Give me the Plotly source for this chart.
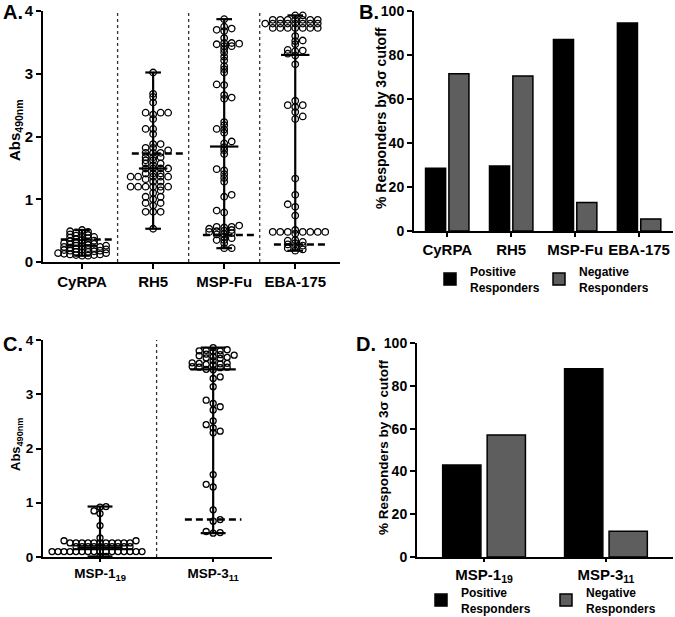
import plotly.graph_objects as go

# ---------------- Panel A data ----------------
a_labels = ["CyRPA", "RH5", "MSP-Fu", "EBA-175"]
cyrpa = [0.51, 0.49, 0.48, 0.47, 0.46, 0.44, 0.43, 0.42, 0.40, 0.40, 0.39, 0.38, 0.36,
         0.35, 0.34, 0.33, 0.32, 0.31, 0.30, 0.30, 0.29, 0.28, 0.27, 0.26, 0.26, 0.25,
         0.24, 0.24, 0.23, 0.22, 0.22, 0.21, 0.20, 0.20, 0.19, 0.18, 0.18, 0.17, 0.16,
         0.16, 0.15, 0.14, 0.14, 0.13, 0.12, 0.12, 0.11, 0.11, 0.10, 0.10]
rh5 = [3.02, 2.68, 2.63, 2.54, 2.38, 2.38, 2.38, 2.35, 2.28, 2.12, 2.12, 2.04, 1.88, 1.88, 1.82,
       1.82, 1.78, 1.74, 1.74, 1.74, 1.67, 1.67, 1.67, 1.62, 1.62, 1.57, 1.57, 1.54, 1.49, 1.49,
       1.49, 1.49, 1.41, 1.41, 1.41, 1.36, 1.36, 1.36, 1.36, 1.36, 1.32, 1.28, 1.28, 1.20, 1.20,
       1.20, 1.20, 1.20, 1.20, 1.14, 1.10, 1.04, 1.04, 1.00, 0.94, 0.94, 0.90, 0.80, 0.80, 0.80, 0.53]
msp_fu = [3.87, 3.75, 3.72, 3.70, 3.68, 3.57, 3.49, 3.49, 3.48, 3.47, 3.44, 3.44, 3.39, 3.34, 3.27,
          3.21, 3.12, 3.07, 3.02, 2.83, 2.82, 2.66, 2.62, 2.60, 2.23, 2.18, 2.12, 2.11, 2.06, 1.92,
          1.89, 1.83, 1.78, 1.72, 1.48, 1.46, 1.40, 1.34, 1.28, 1.07, 1.04, 0.82, 0.79, 0.58, 0.56,
          0.56, 0.55, 0.53, 0.51, 0.50, 0.49, 0.48, 0.46, 0.45, 0.44, 0.40, 0.38, 0.35, 0.35, 0.30,
          0.22, 0.22]
eba175 = [3.93, 3.93, 3.86, 3.86, 3.86, 3.86, 3.86, 3.86, 3.86, 3.80, 3.80, 3.80, 3.80, 3.80,
          3.80, 3.80, 3.80, 3.73, 3.73, 3.73, 3.73, 3.73, 3.73, 3.73, 3.60, 3.53, 3.52, 3.47,
          3.38, 3.37, 3.36, 3.32, 3.29, 3.15, 2.57, 2.50, 2.50, 2.47, 2.39, 2.32, 2.28, 1.33,
          1.07, 0.92, 0.88, 0.74, 0.51, 0.48, 0.48, 0.48, 0.48, 0.48, 0.48, 0.48, 0.45, 0.35,
          0.34, 0.32, 0.30, 0.28, 0.26, 0.24, 0.22, 0.20, 0.18]
a_median = [0.26, 1.49, 1.84, 3.30]
a_cutoff = [0.36, 1.73, 0.43, 0.28]

# ---------------- Panel B data ----------------
b_labels = ["CyRPA", "RH5", "MSP-Fu", "EBA-175"]
b_pos = [28.5, 29.5, 87.0, 94.5]
b_neg = [71.5, 70.5, 13.0, 5.5]

# ---------------- Panel C data ----------------
c_labels = ["MSP-1<sub>19</sub>", "MSP-3<sub>11</sub>"]
msp1 = [0.93, 0.92, 0.85, 0.80, 0.58, 0.35, 0.30, 0.30, 0.26, 0.26, 0.26, 0.26, 0.26, 0.26,
        0.26, 0.26, 0.26, 0.26, 0.26, 0.19, 0.19, 0.19, 0.19, 0.19, 0.19, 0.19, 0.19, 0.19,
        0.19, 0.10, 0.10, 0.10, 0.10, 0.10, 0.10, 0.10, 0.10, 0.10, 0.10, 0.10, 0.10, 0.10,
        0.10, 0.10, 0.10, 0.01, 0.01]
msp3 = [3.86, 3.82, 3.81, 3.80, 3.80, 3.79, 3.74, 3.73, 3.72, 3.71, 3.69, 3.68, 3.67, 3.66,
        3.62, 3.58, 3.57, 3.57, 3.56, 3.55, 3.54, 3.51, 3.50, 3.50, 3.49, 3.46, 3.45, 3.32,
        3.29, 3.14, 2.89, 2.83, 2.77, 2.71, 2.51, 2.44, 2.38, 2.32, 2.29, 1.52, 1.34, 1.29,
        0.87, 0.69, 0.66, 0.47, 0.45, 0.44]
c_median = [0.18, 3.46]
c_cutoff = [None, 0.69]

# ---------------- Panel D data ----------------
d_labels = ["MSP-1<sub>19</sub>", "MSP-3<sub>11</sub>"]
d_pos = [43.0, 88.0]
d_neg = [57.0, 12.0]

W, H = 675, 617
FONT = "Liberation Sans, Arial, sans-serif"


def px(v):
    return v / W


def py(v):
    return 1 - v / H


def swarm(values, ppx_y, ppx_x, step, dy_min, dx_min):
    """Beeswarm x-offsets (data units) so hollow dots don't pile up."""
    order = sorted(range(len(values)), key=lambda i: values[i])
    placed = []
    offs = [0.0] * len(values)
    flip = 1
    for i in order:
        yv = values[i] * ppx_y
        cands = [0.0]
        for j in range(1, 40):
            cands += [flip * j * step, -flip * j * step]
        chosen = 0.0
        for c in cands:
            if all(not (abs(c - q[0]) < dx_min and abs(yv - q[1]) < dy_min) for q in placed):
                chosen = c
                break
        if chosen != 0:
            flip = -flip if chosen * flip > 0 else flip
        placed.append((chosen, yv))
        offs[i] = chosen / ppx_x
    return offs


fig = go.Figure()

# Domains (pixel based)
A_x = (43, 340); A_y = (11, 262)
B_x = (414, 673); B_y = (11, 231)
C_x = (43, 272); C_y = (340, 557)
D_x = (417, 673); D_y = (343, 557)

A_rng = [-0.55, 3.63]
C_rng = [-0.504, 1.52]

A_ppx_x = (A_x[1] - A_x[0]) / (A_rng[1] - A_rng[0])
A_ppx_y = (A_y[1] - A_y[0]) / 4.0
C_ppx_x = (C_x[1] - C_x[0]) / (C_rng[1] - C_rng[0])
C_ppx_y = (C_y[1] - C_y[0]) / 4.0


def dot_panel(groups, medians, cutoffs, xa, ya, ppx_x, ppx_y, steps, dy_min, msize,
              med_hw, cap_hw, cut_l, cut_r):
    shapes = []
    for gi, vals in enumerate(groups):
        lo, hi = min(vals), max(vals)
        lx = [gi, gi, None, gi - cap_hw, gi + cap_hw, None, gi - cap_hw, gi + cap_hw, None,
              gi - med_hw, gi + med_hw]
        ly = [lo, hi, None, hi, hi, None, lo, lo, None, medians[gi], medians[gi]]
        fig.add_trace(go.Scatter(x=lx, y=ly, mode="lines", xaxis=xa, yaxis=ya,
                                 line=dict(color="black", width=2.2), showlegend=False,
                                 hoverinfo="skip"))
        st = steps[gi]
        offs = swarm(vals, ppx_y, ppx_x, st, dy_min, st * 0.9)
        fig.add_trace(go.Scatter(x=[gi + o for o in offs], y=vals, mode="markers",
                                 xaxis=xa, yaxis=ya, showlegend=False,
                                 marker=dict(symbol="circle-open", size=msize, color="black",
                                             line=dict(width=1.3, color="black"))))
        if cutoffs[gi] is not None:
            fig.add_trace(go.Scatter(x=[gi - cut_l, gi + cut_r], y=[cutoffs[gi], cutoffs[gi]],
                                     mode="lines", xaxis=xa, yaxis=ya, showlegend=False,
                                     line=dict(color="black", width=2.5, dash="7px,4px"),
                                     hoverinfo="skip"))
    for gi in range(len(groups) - 1):
        shapes.append(dict(type="line", xref=xa, yref=ya, x0=gi + 0.5, x1=gi + 0.5, y0=0, y1=4,
                           line=dict(color="#333333", width=1.3, dash="dot"), layer="below"))
    return shapes


shapes = []
shapes += dot_panel([cyrpa, rh5, msp_fu, eba175], a_median, a_cutoff, "x", "y",
                    A_ppx_x, A_ppx_y, [6.0, 7.5, 7.5, 7.5], 3.0, 6.5, 0.2, 0.11, 0.3, 0.42)
shapes += dot_panel([msp1, msp3], c_median, c_cutoff, "x3", "y3",
                    C_ppx_x, C_ppx_y, [6.0, 7.0], 3.4, 6, 0.2, 0.11, 0.25, 0.25)

# Bars B
fig.add_trace(go.Bar(x=list(range(len(b_labels))), y=b_pos, xaxis="x2", yaxis="y2",
                     name="Positive<br>Responders", marker=dict(color="#000000",
                     line=dict(color="black", width=1.5)), legend="legend", offsetgroup="p"))
fig.add_trace(go.Bar(x=list(range(len(b_labels))), y=b_neg, xaxis="x2", yaxis="y2",
                     name="Negative<br>Responders", marker=dict(color="#5e5e5e",
                     line=dict(color="black", width=1.5)), legend="legend", offsetgroup="n"))
# Bars D
fig.add_trace(go.Bar(x=list(range(len(d_labels))), y=d_pos, xaxis="x4", yaxis="y4",
                     name="Positive<br>Responders", marker=dict(color="#000000",
                     line=dict(color="black", width=1.5)), legend="legend2", offsetgroup="p"))
fig.add_trace(go.Bar(x=list(range(len(d_labels))), y=d_neg, xaxis="x4", yaxis="y4",
                     name="Negative<br>Responders", marker=dict(color="#5e5e5e",
                     line=dict(color="black", width=1.5)), legend="legend2", offsetgroup="n"))


def tf(size):
    return dict(family=FONT, size=size, color="black", weight="bold")


common = dict(showline=True, linecolor="black", linewidth=2, ticks="outside",
              tickwidth=2, tickcolor="black", showgrid=False, zeroline=False,
              fixedrange=True, automargin=False)

fig.update_layout(
    width=W, height=H, margin=dict(l=0, r=0, t=0, b=0, autoexpand=False),
    paper_bgcolor="white", plot_bgcolor="white",
    barmode="group", bargap=0.27, bargroupgap=0.14,
    xaxis=dict(domain=[px(A_x[0]), px(A_x[1])], range=A_rng, tickvals=[0, 1, 2, 3],
               ticktext=a_labels, anchor="y", tickangle=0, tickfont=tf(15), ticklen=5, **common),
    yaxis=dict(domain=[py(A_y[1]), py(A_y[0])], range=[0, 4], dtick=1, anchor="x",
               tickfont=tf(15), ticklen=5, **common),
    xaxis2=dict(domain=[px(B_x[0]), px(B_x[1])], range=[-0.52, 3.53], tickvals=[0, 1, 2, 3],
                ticktext=b_labels, anchor="y2", tickangle=0, tickfont=tf(15), ticklen=4, **common),
    yaxis2=dict(domain=[py(B_y[1]), py(B_y[0])], range=[0, 100], dtick=20, anchor="x2",
                tickfont=tf(14), ticklen=5, **common),
    xaxis3=dict(domain=[px(C_x[0]), px(C_x[1])], range=C_rng, tickvals=[0, 1],
                ticktext=c_labels, anchor="y3", tickangle=0, tickfont=tf(13.5), ticklen=3,
                **common),
    yaxis3=dict(domain=[py(C_y[1]), py(C_y[0])], range=[0, 4], dtick=1, anchor="x3",
                tickfont=tf(13.5), ticklen=5, **common),
    xaxis4=dict(domain=[px(D_x[0]), px(D_x[1])], range=[-0.55, 1.55], tickvals=[0, 1],
                ticktext=d_labels, anchor="y4", tickangle=0, tickfont=tf(15), ticklen=3,
                **common),
    yaxis4=dict(domain=[py(D_y[1]), py(D_y[0])], range=[0, 100], dtick=20, anchor="x4",
                tickfont=tf(14), ticklen=5, **common),
    legend=dict(orientation="h", x=px(430), y=py(257), xanchor="left", yanchor="top",
                font=tf(12), entrywidth=64, entrywidthmode="pixels", itemwidth=30,
                valign="middle", bgcolor="rgba(0,0,0,0)", itemclick=False,
                itemdoubleclick=False),
    legend2=dict(orientation="h", x=px(421), y=py(578), xanchor="left", yanchor="top",
                 font=tf(12), entrywidth=80, entrywidthmode="pixels", itemwidth=30,
                 valign="middle", bgcolor="rgba(0,0,0,0)", itemclick=False,
                 itemdoubleclick=False),
    shapes=shapes,
    showlegend=True,
)

ann = []
def label(text, x, y, size, angle=0, xanchor="center"):
    ann.append(dict(text=text, x=px(x), y=py(y), xref="paper", yref="paper", showarrow=False,
                    textangle=angle, xanchor=xanchor, yanchor="middle", font=tf(size)))

label("A.", 1, 12, 20, xanchor="left")
label("B.", 357, 12, 20, xanchor="left")
label("C.", 1, 344, 20, xanchor="left")
label("D.", 354, 344, 20, xanchor="left")
label("Abs<sub>490nm</sub>", 16, 130, 15, angle=-90)
label("% Responders by 3σ cutoff", 381, 118, 14, angle=-90)
label("Abs<sub>490nm</sub>", 17, 445, 13, angle=-90)
label("% Responders by 3σ cutoff", 383, 447, 13.5, angle=-90)
fig.update_layout(annotations=ann)

# Remove the default 8px body margin so the figure fills the window exactly.
fig.write_html("out.html", config={"displayModeBar": False},
               post_script="document.body.style.margin='0px';")
